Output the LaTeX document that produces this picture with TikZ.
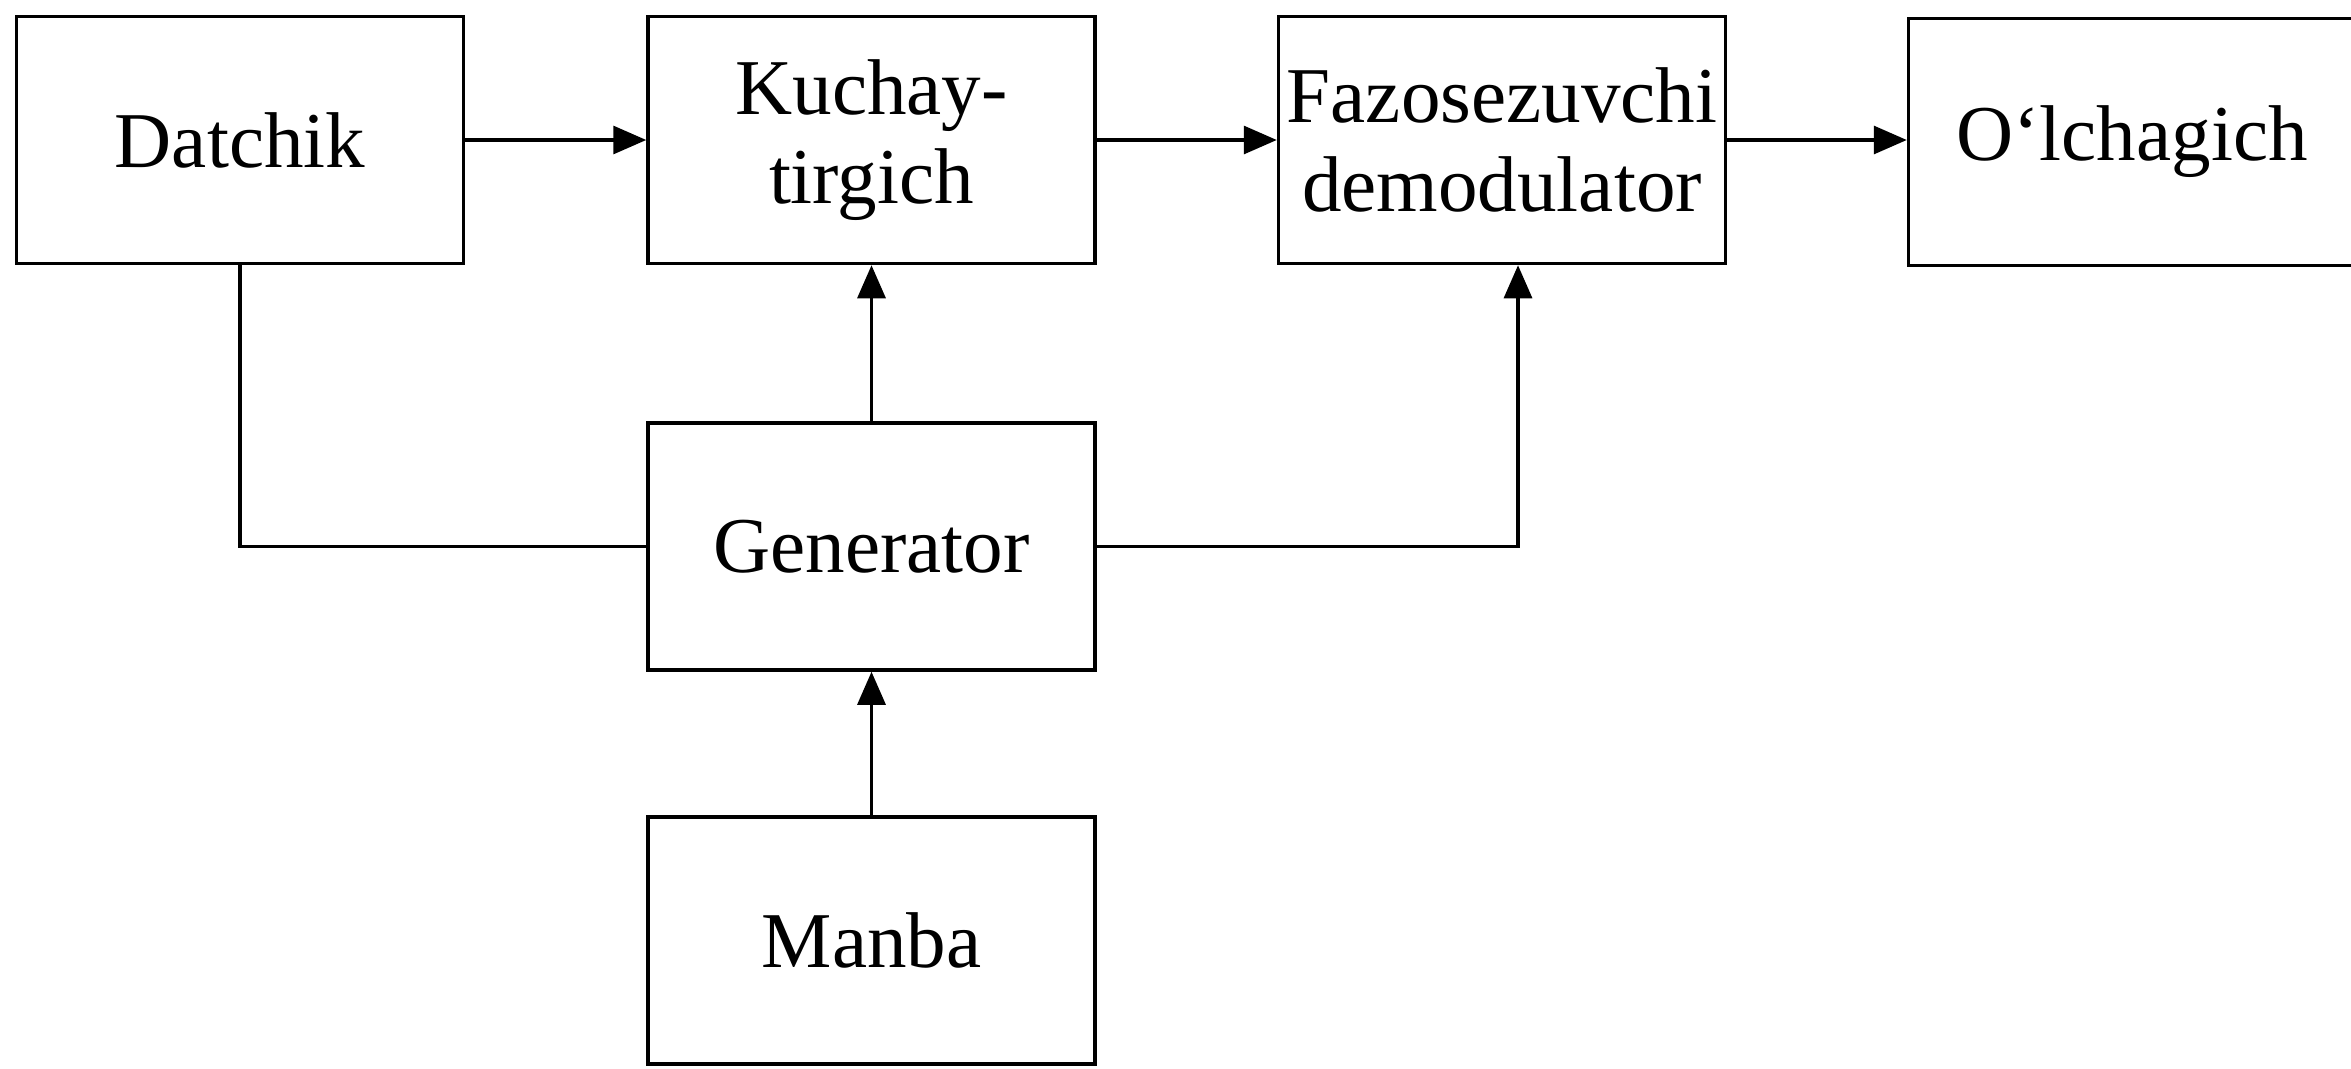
\documentclass[tikz,border=0pt]{standalone}
\usepackage{fontspec}
\setmainfont{Liberation Serif}
\usetikzlibrary{
	arrows.meta,
	calc,
	positioning
}

\begin{document}
\begin{tikzpicture}[
		block/.style={draw, line width=1pt, minimum width=4.47cm, minimum height=2.47cm, inner xsep=2pt, align=center, font=\fontsize{22.5}{25.5}\selectfont},
		link/.style={line width=0.9pt},
		arr/.style={link, -{Triangle[length=3.3mm, width=2.8mm]}}
	]
			\useasboundingbox (0,0) rectangle (23.51,-10.68);
			\node[block] (datchik) at (2.40,-1.40) {Datchik};
			\node[block] (kuchay) at (8.715,-1.40) {Kuchay-\\tirgich};
			\node[block] (fazo) at (15.02,-1.40) {Fazosezuvchi\\demodulator};
			\node[block] (olch) at (21.32,-1.42) {O‘lchagich};
			\node[block] (gen) at (8.715,-5.465) {Generator};
			\node[block] (manba) at (8.715,-9.405) {Manba};
			\draw[arr] (datchik) -- (kuchay);
			\draw[arr] (kuchay) -- (fazo);
			\draw[arr] (fazo.east) -- (olch.west |- fazo.east);
			\draw[arr] (gen) -- (kuchay);
			\draw[arr] (manba) -- (gen);
			\draw[link] (datchik.south) |- (gen.west);
			\draw[arr] (gen.east) -| ([xshift=1.6mm]fazo.south);
		\end{tikzpicture}
\end{document}
